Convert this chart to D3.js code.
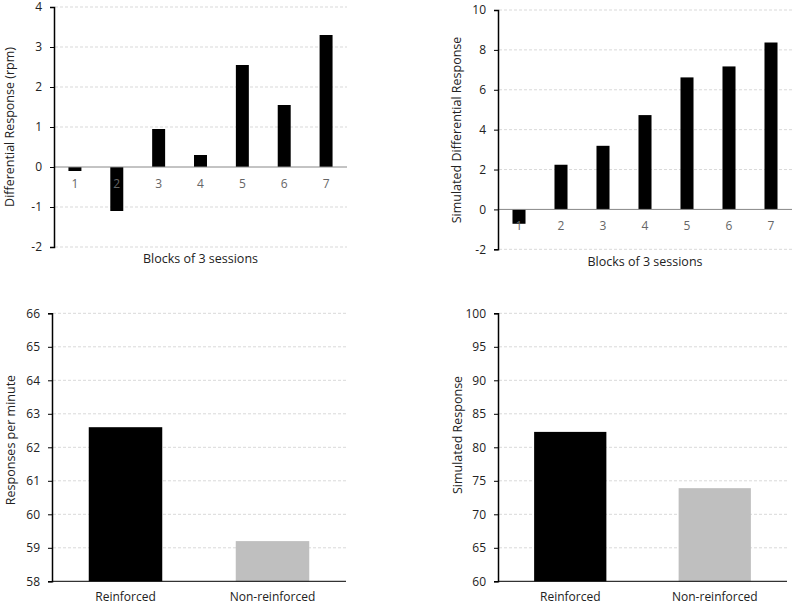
<!DOCTYPE html>
<html>
<head>
<meta charset="utf-8">
<script src="https://cdn.jsdelivr.net/npm/d3@7"></script>
<style>
  html, body { margin: 0; padding: 0; background: #fff; }
  svg text { font-family: "Open Sans", "Noto Sans", sans-serif; }
</style>
</head>
<body>
<svg id="chart" width="796" height="605"></svg>
<script>
// ---- data ----
const blocks = ["1", "2", "3", "4", "5", "6", "7"];
const diffResponse = [-0.1, -1.1, 0.95, 0.3, 2.55, 1.55, 3.3];
const simDiffResponse = [-0.72, 2.24, 3.19, 4.73, 6.62, 7.17, 8.37];
const conditions = ["Reinforced", "Non-reinforced"];
const responsesPerMinute = [62.6, 59.2];
const simResponse = [82.3, 73.9];
const ticksTL = [-2, -1, 0, 1, 2, 3, 4];
const ticksTR = [-2, 0, 2, 4, 6, 8, 10];
const ticksBL = [58, 59, 60, 61, 62, 63, 64, 65, 66];
const ticksBR = [60, 65, 70, 75, 80, 85, 90, 95, 100];
const barColors = ["#000000", "#bfbfbf"];

const svg = d3.select("#chart");

function panel(opts) {
  const g = svg.append("g");
  const x = d3.scaleBand().domain(opts.cats).range([opts.x0, opts.x1])
    .paddingInner(opts.padIn).paddingOuter(opts.padOut);
  const y = d3.scaleLinear().domain(opts.domain).range([opts.yb, opts.yt]);

  // gridlines
  g.append("g").selectAll("line").data(opts.ticks.filter(t => t !== opts.base))
    .join("line")
    .attr("x1", opts.x0 + 1).attr("x2", opts.x1)
    .attr("y1", d => y(d)).attr("y2", d => y(d))
    .attr("stroke", "#d9d9d9").attr("stroke-width", 1)
    .attr("stroke-dasharray", "3,2");

  // bars
  const data = opts.cats.map((c, i) => ({ c, v: opts.values[i], i }));
  g.append("g").selectAll("rect").data(data).join("rect")
    .attr("x", d => x(d.c))
    .attr("width", x.bandwidth())
    .attr("y", d => y(Math.max(d.v, opts.base)))
    .attr("height", d => Math.abs(y(d.v) - y(opts.base)))
    .attr("fill", d => opts.colors ? opts.colors[d.i] : "#000");

  // base line
  g.append("line")
    .attr("x1", opts.x0).attr("x2", opts.x1)
    .attr("y1", y(opts.base)).attr("y2", y(opts.base))
    .attr("stroke", opts.baseColor).attr("stroke-width", 1);

  // y axis
  const ya = d3.axisLeft(y).tickValues(opts.ticks).tickSize(4).tickPadding(8)
    .tickFormat(d => String(d));
  const yg = g.append("g").attr("transform", `translate(${opts.x0},0)`).call(ya);
  yg.select(".domain").attr("stroke", "#000").attr("stroke-width", 1.5);
  yg.selectAll(".tick line").attr("stroke", "#000");
  yg.selectAll("text").attr("font-size", 12).attr("fill", "#222");

  // x category labels
  g.append("g").selectAll("text").data(opts.cats).join("text")
    .attr("x", d => x(d) + x.bandwidth() / 2)
    .attr("y", y(opts.base) + opts.labelOff)
    .attr("text-anchor", "middle")
    .attr("font-size", 12)
    .attr("fill", opts.catColor)
    .text(d => d);

  // y title
  g.append("text")
    .attr("transform", `translate(${opts.ytx},${opts.yty}) rotate(-90)`)
    .attr("text-anchor", "middle")
    .attr("dominant-baseline", "central")
    .attr("font-size", 12.5)
    .attr("fill", "#222")
    .text(opts.ytitle);

  // x title
  if (opts.xtitle) {
    g.append("text")
      .attr("x", (opts.x0 + opts.x1) / 2)
      .attr("y", opts.xty)
      .attr("text-anchor", "middle")
      .attr("dominant-baseline", "central")
      .attr("font-size", 12.5)
      .attr("fill", "#222")
      .text(opts.xtitle);
  }
}

panel({
  cats: blocks, values: diffResponse, x0: 54, x1: 347, padIn: 0.69, padOut: 0.345,
  domain: [-2, 4], yb: 247, yt: 7, ticks: ticksTL, base: 0, baseColor: "#888",
  labelOff: 21, catColor: "#666", ytitle: "Differential Response (rpm)", ytx: 9, yty: 127,
  xtitle: "Blocks of 3 sessions", xty: 258
});
panel({
  cats: blocks, values: simDiffResponse, x0: 498, x1: 792, padIn: 0.69, padOut: 0.345,
  domain: [-2, 10], yb: 249.3, yt: 10, ticks: ticksTR, base: 0, baseColor: "#888",
  labelOff: 21, catColor: "#666", ytitle: "Simulated Differential Response", ytx: 456, yty: 130,
  xtitle: "Blocks of 3 sessions", xty: 261
});
panel({
  cats: conditions, values: responsesPerMinute, x0: 52, x1: 346, padIn: 0.5, padOut: 0.25,
  domain: [58, 66], yb: 581.3, yt: 313.3, ticks: ticksBL, base: 58, baseColor: "#000",
  labelOff: 20, catColor: "#222", colors: barColors,
  ytitle: "Responses per minute", ytx: 10, yty: 440
});
panel({
  cats: conditions, values: simResponse, x0: 498, x1: 787, padIn: 0.5, padOut: 0.25,
  domain: [60, 100], yb: 581.3, yt: 313.3, ticks: ticksBR, base: 60, baseColor: "#000",
  labelOff: 20, catColor: "#222", colors: barColors,
  ytitle: "Simulated Response", ytx: 457, yty: 435
});
</script>
</body>
</html>
